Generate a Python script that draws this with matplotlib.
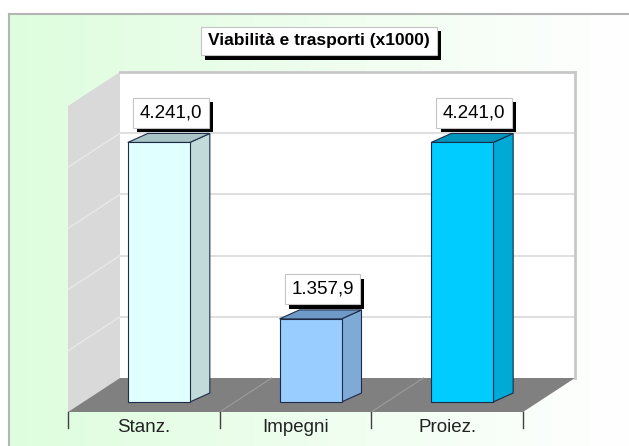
import numpy as np
import matplotlib
matplotlib.use("Agg")
import matplotlib.pyplot as plt
import matplotlib.patheffects as pe
from matplotlib.patches import Polygon, Rectangle

plt.rcParams["font.family"] = ["Liberation Sans", "DejaVu Sans"]

TITLE = "Viabilità e trasporti (x1000)"
CATEGORIES = ["Stanz.", "Impegni", "Proiez."]
VALUES = [4241.0, 1357.9, 4241.0]
FRONT_COLORS = ["#e0ffff", "#99ccff", "#00ccff"]
SIDE_COLORS = ["#c2dada", "#80aad6", "#00aad4"]
TOP_COLORS = ["#a9c5c5", "#6f99c6", "#0095bd"]
Y_MAX = 5000
GRID_STEP = 1000

W, H = 629, 446
# back wall in pixels
WALL_L, WALL_R, WALL_T, WALL_B = 120, 575, 72, 378


def it_fmt(v: float) -> str:
    """italian number format 4.241,0"""
    s = f"{v:,.1f}"
    return s.replace(",", "X").replace(".", ",").replace("X", ".")


def boxed_text(axis, x, y, text, dx, dy, size, weight="normal", pad=0.4):
    """text in a white box with black drop shadow"""
    t = axis.annotate(text, (x, y), xytext=(dx, dy), textcoords="offset pixels",
                      ha="center", va="center", fontsize=size, fontweight=weight, color="black",
                      bbox=dict(boxstyle=f"square,pad={pad}", fc="white", ec="#c4c4c4", lw=0.8),
                      annotation_clip=False, zorder=21)
    # shadow 4px right / down
    t.get_bbox_patch().set_path_effects([
        pe.SimplePatchShadow(offset=(3, -3), shadow_rgbFace="black", alpha=1.0),
        pe.Normal(),
    ])
    return t


def main() -> int:
    fig = plt.figure(figsize=(W / 100, H / 100), dpi=100)

    # background frame with green gradient
    bg = fig.add_axes([0, 0, 1, 1])
    bg.set_xlim(0, W)
    bg.set_ylim(H, 0)
    bg.axis("off")
    grad = np.linspace(0, 1, 256)
    left = np.array([222, 253, 222]) / 255
    right = np.array([255, 255, 255]) / 255
    img = (left[None, :] * (1 - grad[:, None]) + right[None, :] * grad[:, None])[None, :, :]
    bg.imshow(img, extent=[9, W, H, 14], aspect="auto", zorder=0)
    bg.plot([9, W], [14, 14], color="#b4b4b4", lw=1.5, zorder=1)
    bg.plot([9, 9], [14, H], color="#b4b4b4", lw=1.5, zorder=1)

    # main axes = back wall
    ax = fig.add_axes([WALL_L / W, (H - WALL_B) / H, (WALL_R - WALL_L) / W, (WALL_B - WALL_T) / H])
    n = len(CATEGORIES)
    ax.set_xlim(-0.5, n - 0.5)
    ax.set_ylim(0, Y_MAX)
    ax.set_facecolor("white")
    ax.set_xticks([])
    ax.set_yticks([])
    for s in ["left", "bottom"]:
        ax.spines[s].set_visible(False)
    for s in ["top", "right"]:
        ax.spines[s].set_color("#c8c8c8")
        ax.spines[s].set_linewidth(2)

    ppx = (WALL_R - WALL_L) / n      # pixels per category
    ppy = (WALL_B - WALL_T) / Y_MAX  # pixels per unit

    # depth offsets (pixels -> data)
    ddx, ddy = -52 / ppx, -34 / ppy   # floor depth
    fdx, fdy = -37 / ppx, -24 / ppy   # bar front plane
    bdx, bdy = 20 / ppx, 9 / ppy      # bar depth
    bw = 62 / ppx

    x0, x1 = -0.5, n - 0.5
    grid_vals = np.arange(GRID_STEP, Y_MAX, GRID_STEP)

    # back wall grid
    for v in grid_vals:
        ax.plot([x0, x1], [v, v], color="#d9d9d9", lw=1.2, zorder=1)

    # side wall
    ax.add_patch(Polygon([(x0, 0), (x0, Y_MAX), (x0 + ddx, Y_MAX + ddy), (x0 + ddx, ddy)],
                         closed=True, fc="#d9d9d9", ec="none", clip_on=False, zorder=2))
    for v in grid_vals:
        ax.plot([x0, x0 + ddx], [v, v + ddy], color="#e9e9e9", lw=1, clip_on=False, zorder=3)

    # floor
    ax.add_patch(Polygon([(x0, 0), (x1, 0), (x1 + ddx, ddy), (x0 + ddx, ddy)],
                         closed=True, fc="#808080", ec="none", clip_on=False, zorder=2))
    for b in np.arange(x0 + 1, x1, 1):
        ax.plot([b, b + ddx], [0, ddy], color="#9c9c9c", lw=0.8, clip_on=False, zorder=3)

    # category ticks and labels
    tick_len = 16 / ppy
    for b in np.arange(x0, x1 + 0.01, 1):
        ax.plot([b + ddx, b + ddx], [ddy, ddy - tick_len], color="#404040", lw=1,
                clip_on=False, zorder=3)
    for i, cat in enumerate(CATEGORIES):
        ax.text(i + ddx, ddy - 15.5 / ppy, cat, ha="center", va="center",
                fontsize=13.5, color="#222222", clip_on=False)

    # bars
    edge = dict(ec="#1c2c48", lw=0.8, clip_on=False, zorder=5)
    for i, v in enumerate(VALUES):
        l = i + fdx - bw / 2
        r = i + fdx + bw / 2
        b = fdy
        t = fdy + v
        ax.add_patch(Polygon([(r, b), (r, t), (r + bdx, t + bdy), (r + bdx, b + bdy)],
                             closed=True, fc=SIDE_COLORS[i], **edge))
        ax.add_patch(Polygon([(l, t), (r, t), (r + bdx, t + bdy), (l + bdx, t + bdy)],
                             closed=True, fc=TOP_COLORS[i], **edge))
        ax.add_patch(Rectangle((l, b), bw, v, fc=FRONT_COLORS[i], **edge))
        boxed_text(ax, i + fdx, t, it_fmt(v), 12, 29.5, 13.5, pad=0.35)

    # title
    boxed_text(bg, 319, 41, TITLE, 0, 0, 12.5, weight="bold", pad=0.4)

    fig.savefig("out.png", dpi=100)
    plt.close(fig)
    return 0


if __name__ == "__main__":
    raise SystemExit(main())
